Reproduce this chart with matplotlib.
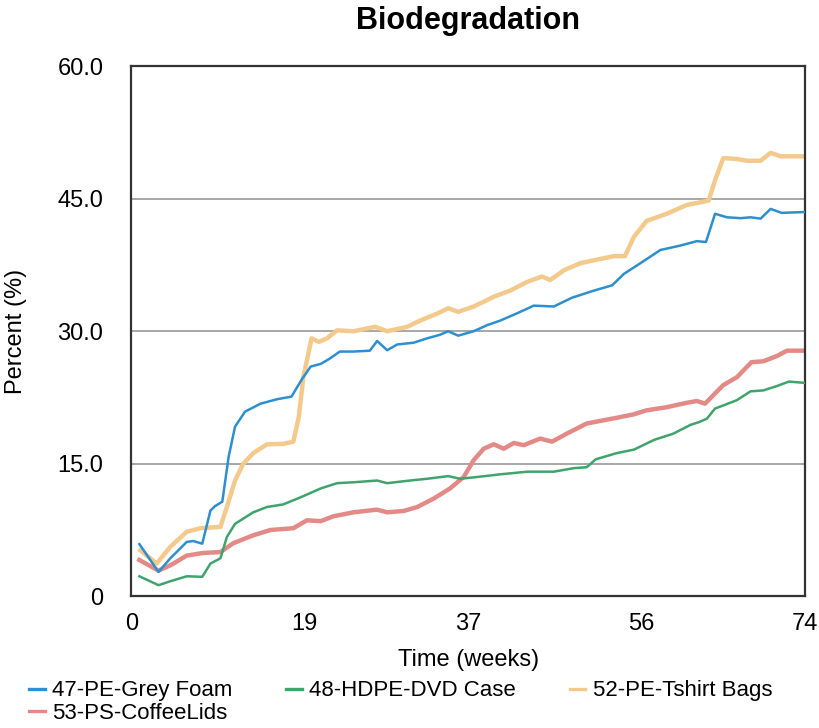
import matplotlib
matplotlib.use("Agg")
import matplotlib.pyplot as plt

# values (weeks, percent)
weeks_foam = [0.9, 3.0, 4.3, 6.1, 6.8, 7.8, 8.7, 9.2, 10.0, 10.7, 11.4, 12.5, 14.2, 16.0,
              17.6, 18.7, 19.7, 20.8, 21.8, 22.9, 24.4, 26.2, 27.0, 28.1, 29.2, 31.0,
              32.5, 33.9, 34.8, 35.9, 37.6, 39.1, 40.5, 42.3, 44.2, 46.4, 48.4, 50.8,
              52.8, 54.1, 55.9, 58.1, 60.3, 62.1, 63.1, 64.1, 65.4, 66.9, 68.0, 69.1,
              70.2, 71.4, 74.0]
foam = [5.9, 2.75, 4.3, 6.15, 6.25, 5.95, 9.7, 10.2, 10.7, 15.8, 19.2, 20.9, 21.8, 22.3,
        22.6, 24.5, 26.0, 26.3, 26.9, 27.7, 27.7, 27.8, 28.9, 27.85, 28.5, 28.7,
        29.2, 29.6, 30.0, 29.5, 30.0, 30.7, 31.2, 32.0, 32.9, 32.8, 33.8, 34.6,
        35.2, 36.5, 37.7, 39.2, 39.7, 40.2, 40.1, 43.3, 42.9, 42.8, 42.9, 42.75,
        43.85, 43.4, 43.5]

weeks_dvd = [0.9, 3.0, 4.3, 6.1, 7.8, 8.7, 9.8, 10.5, 11.4, 13.4, 14.9, 16.7, 18.6, 20.8,
             22.6, 24.4, 27.0, 28.1, 30.6, 32.5, 34.8, 36.1, 38.0, 40.5, 43.5, 46.4,
             48.6, 50.0, 51.0, 53.3, 55.2, 57.4, 59.5, 61.4, 62.3, 63.2, 64.1, 65.0,
             66.5, 68.0, 69.4, 70.9, 72.2, 74.0]
dvd = [2.26, 1.25, 1.7, 2.26, 2.2, 3.7, 4.3, 6.7, 8.2, 9.5, 10.1, 10.4, 11.2, 12.2,
       12.8, 12.9, 13.1, 12.8, 13.1, 13.3, 13.6, 13.3, 13.5, 13.8, 14.1, 14.1,
       14.5, 14.6, 15.5, 16.2, 16.6, 17.7, 18.4, 19.4, 19.7, 20.1, 21.25, 21.6,
       22.2, 23.2, 23.3, 23.8, 24.3, 24.15]

weeks_bags = [1.0, 2.8, 4.3, 6.1, 7.6, 9.8, 10.5, 11.4, 12.3, 13.4, 14.9, 16.7, 17.8,
              18.4, 18.9, 19.8, 20.6, 21.5, 22.6, 24.4, 26.8, 28.1, 30.3, 31.7, 33.6,
              34.8, 35.9, 37.6, 39.8, 41.6, 43.5, 45.1, 46.0, 47.5, 49.3, 51.1, 53.0,
              54.2, 55.2, 56.6, 58.8, 61.0, 62.5, 63.4, 64.1, 65.0, 66.5, 67.6, 69.1,
              70.2, 71.3, 74.0]
bags = [5.2, 3.7, 5.6, 7.3, 7.7, 7.85, 10.1, 13.1, 15.0, 16.2, 17.2, 17.25, 17.5,
        20.3, 24.8, 29.2, 28.8, 29.2, 30.1, 30.0, 30.5, 30.0, 30.5, 31.2, 32.0,
        32.6, 32.2, 32.8, 33.9, 34.6, 35.6, 36.2, 35.8, 36.9, 37.7, 38.1, 38.5,
        38.5, 40.7, 42.5, 43.3, 44.3, 44.6, 44.8, 47.1, 49.6, 49.5, 49.3, 49.3,
        50.2, 49.8, 49.8]

weeks_lids = [0.9, 3.0, 4.3, 6.1, 7.9, 9.8, 11.2, 13.4, 15.3, 17.8, 19.3, 20.8, 22.2,
              24.4, 26.1, 27.0, 28.1, 29.9, 31.4, 33.2, 35.0, 36.5, 37.6, 38.7, 39.8,
              40.9, 42.0, 43.1, 44.9, 46.2, 47.8, 50.0, 51.5, 53.3, 55.2, 56.6, 58.8,
              61.0, 62.1, 63.0, 63.9, 65.0, 66.5, 68.1, 69.4, 70.9, 72.0, 74.0]
lids = [4.1, 2.9, 3.5, 4.6, 4.9, 5.0, 6.0, 6.9, 7.5, 7.7, 8.6, 8.5, 9.05,
        9.5, 9.7, 9.8, 9.5, 9.65, 10.1, 11.05, 12.2, 13.5, 15.4, 16.7, 17.2,
        16.7, 17.35, 17.1, 17.85, 17.5, 18.4, 19.55, 19.85, 20.2, 20.6, 21.05, 21.4,
        21.9, 22.1, 21.8, 22.75, 23.9, 24.8, 26.5, 26.6, 27.2, 27.8, 27.8]

x_ticks = [0, 19, 37, 56, 74]
y_ticks = [0, 15, 30, 45, 60]
y_labels = ["0", "15.0", "30.0", "45.0", "60.0"]

plt.rcParams["font.family"] = ["Liberation Sans", "DejaVu Sans"]

fig = plt.figure(figsize=(8.2, 7.28), dpi=100)
ax = fig.add_axes([0.16, 0.181, 0.822, 0.728])

l_foam, = ax.plot(weeks_foam, foam, color="#2b8fd0", lw=1.8, zorder=4)
l_dvd, = ax.plot(weeks_dvd, dvd, color="#3fa46c", lw=1.8, zorder=3)
l_bags, = ax.plot(weeks_bags, bags, color="#f4c98c", lw=3.2, zorder=2)
l_lids, = ax.plot(weeks_lids, lids, color="#e38a86", lw=3.2, zorder=2)

ax.set_xlim(0, 74)
ax.set_ylim(0, 60)
ax.set_xticks(x_ticks)
ax.set_yticks(y_ticks)
ax.set_yticklabels(y_labels)
ax.tick_params(length=0, labelsize=17)
ax.tick_params(axis="y", pad=20)
ax.tick_params(axis="x", pad=12)
for y in [15, 30, 45]:
    ax.axhline(y, color="#a0a0a0", lw=1.3, zorder=1)
for s in ax.spines.values():
    s.set_color("#333333")
    s.set_linewidth(1.6)

ax.set_title("Biodegradation", fontsize=22, fontweight="bold", pad=27)
ax.set_xlabel("Time (weeks)", fontsize=17, labelpad=10)
ax.set_ylabel("Percent (%)", fontsize=17, labelpad=22)

# column-major fill: first column gets Foam + Lids
leg = fig.legend([l_foam, l_lids, l_dvd, l_bags],
                 ["47-PE-Grey Foam", "53-PS-CoffeeLids", "48-HDPE-DVD Case", "52-PE-Tshirt Bags"],
                 loc="lower left", bbox_to_anchor=(0.03, 0.0), ncol=3, frameon=False,
                 fontsize=16, handlelength=0.7, handletextpad=0.35, columnspacing=2.4,
                 labelspacing=0.05, borderpad=0.0, borderaxespad=0.2)
for h in leg.legend_handles:
    h.set_linewidth(2.4)

fig.savefig("out.png", dpi=100)
